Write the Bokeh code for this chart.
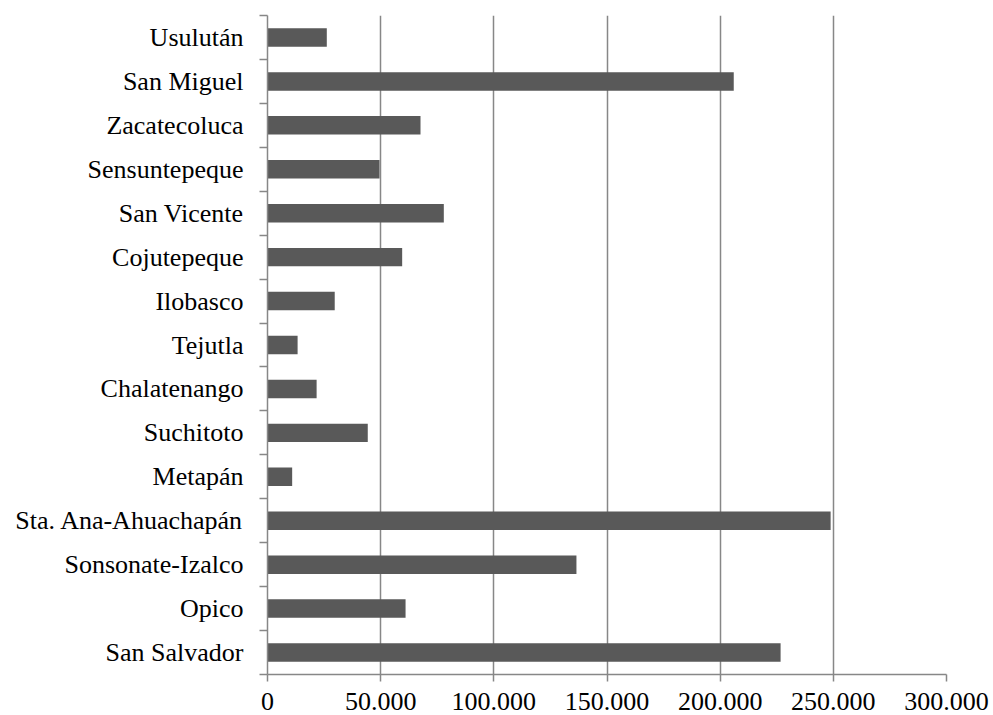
from bokeh.plotting import figure
from bokeh.models import ColumnDataSource, Range1d, LinearAxis, FixedTicker, Grid
from bokeh.embed import file_html
from bokeh.resources import INLINE

# Districts, listed from the bottom of the chart to the top
districts = [
    "San Salvador", "Opico", "Sonsonate-Izalco", "Sta. Ana-Ahuachapán",
    "Metapán", "Suchitoto", "Chalatenango", "Tejutla", "Ilobasco",
    "Cojutepeque", "San Vicente", "Sensuntepeque", "Zacatecoluca",
    "San Miguel", "Usulután",
]
population = [
    226700, 61000, 136500, 248800,
    10900, 44300, 21700, 13300, 29700,
    59500, 77900, 49500, 67600,
    206000, 26200,
]
x_ticks = [0, 50000, 100000, 150000, 200000, 250000, 300000]
x_tick_labels = ["0", "50.000", "100.000", "150.000", "200.000", "250.000", "300.000"]

FONT = "Liberation Serif"
GRID = "#878787"

# each district occupies one unit band; bars sit at the band centres
n = len(districts)
centres = [i + 0.5 for i in range(n)]
bounds = list(range(n + 1))

source = ColumnDataSource(data=dict(y=centres, district=districts,
                                    population=population))

p = figure(
    width=993, height=715,
    frame_width=679, frame_height=659,
    y_range=Range1d(0, n),
    x_range=Range1d(0, 300000),
    output_backend="svg", toolbar_location=None,
    x_axis_location=None, y_axis_location=None,
    min_border_left=267, min_border_right=47,
    min_border_top=15, min_border_bottom=41,
    outline_line_color=None,
)
for g in p.grid:
    g.visible = False

p.hbar(y="y", right="population", height=0.42, source=source,
       fill_color="#595959", line_color=None)

# bottom value axis
xaxis = LinearAxis(ticker=FixedTicker(ticks=x_ticks))
xaxis.major_label_overrides = {t: s for t, s in zip(x_ticks, x_tick_labels)}
xaxis.axis_line_color = GRID
xaxis.axis_line_width = 1.5
xaxis.major_tick_line_color = GRID
xaxis.major_tick_line_width = 1.5
xaxis.major_tick_in = 0
xaxis.major_tick_out = 7
xaxis.minor_tick_line_color = None
xaxis.major_label_standoff = 11
xaxis.major_label_text_font = FONT
xaxis.major_label_text_font_size = "26px"
xaxis.major_label_text_color = "black"
p.add_layout(xaxis, "below")

# category axis: names at band centres, short ticks on the band boundaries
yaxis = LinearAxis(ticker=FixedTicker(ticks=centres, minor_ticks=bounds))
yaxis.major_label_overrides = {c: d for c, d in zip(centres, districts)}
yaxis.axis_line_color = GRID
yaxis.axis_line_width = 1.5
yaxis.major_tick_line_color = None
yaxis.major_tick_in = 0
yaxis.major_tick_out = 8
yaxis.minor_tick_line_color = GRID
yaxis.minor_tick_line_width = 1.5
yaxis.minor_tick_in = 0
yaxis.minor_tick_out = 8
yaxis.major_label_standoff = 16
yaxis.major_label_text_font = FONT
yaxis.major_label_text_font_size = "26px"
yaxis.major_label_text_color = "black"
p.add_layout(yaxis, "left")

p.add_layout(Grid(dimension=0, ticker=xaxis.ticker,
                  grid_line_color=GRID, grid_line_width=1.5))

open("out.html", "w").write(file_html(p, INLINE))
